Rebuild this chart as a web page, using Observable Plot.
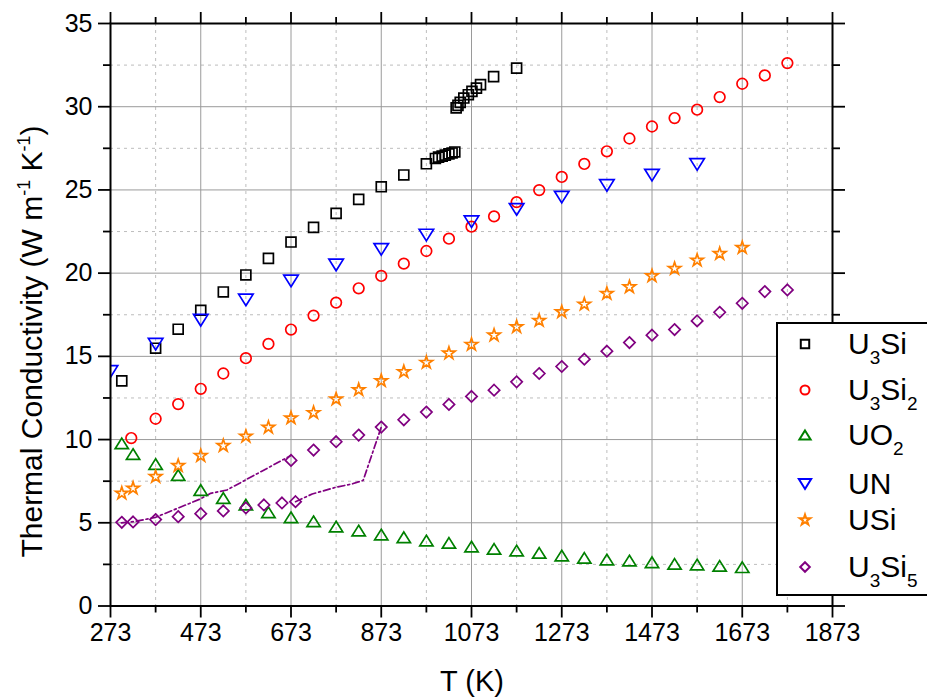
<!DOCTYPE html>
<html><head><meta charset="utf-8">
<script src="https://cdn.jsdelivr.net/npm/d3@7"></script>
<script src="https://cdn.jsdelivr.net/npm/@observablehq/plot@0.6"></script>
<style>
body{margin:0;background:#fff;}
#chart{position:relative;width:927px;height:698px;overflow:hidden;background:#fff;}
</style>
</head><body><div id="chart"></div>
<script>
// ---- tick values ----
const xMajor = [273, 473, 673, 873, 1073, 1273, 1473, 1673, 1873];
const xMinor = [373, 573, 773, 973, 1173, 1373, 1573, 1773];
const yMajor = [0, 5, 10, 15, 20, 25, 30, 35];
const yMinor = [2.5, 7.5, 12.5, 17.5, 22.5, 27.5, 32.5];

// ---- series data (T in K, k in W m-1 K-1) ----
const u3siT = [298, 373, 423, 473, 523, 573, 623, 673, 723, 773, 823, 873, 923, 973, 993, 1000, 1008, 1015, 1023, 1030, 1036, 1039, 1043, 1048, 1056, 1066, 1074, 1084, 1093, 1122, 1173];
const u3siK = [13.53, 15.49, 16.63, 17.77, 18.87, 19.89, 20.89, 21.87, 22.75, 23.59, 24.43, 25.19, 25.9, 26.57, 26.89, 26.97, 27.03, 27.09, 27.17, 27.22, 27.28, 29.93, 30.08, 30.26, 30.52, 30.72, 30.92, 31.12, 31.33, 31.81, 32.32];

const u3si2T = [319, 373, 423, 473, 523, 573, 623, 673, 723, 773, 823, 873, 923, 973, 1023, 1073, 1123, 1173, 1223, 1273, 1323, 1373, 1423, 1473, 1523, 1573, 1623, 1673, 1723, 1773];
const u3si2K = [10.09, 11.25, 12.13, 13.05, 13.97, 14.89, 15.75, 16.61, 17.45, 18.23, 19.09, 19.83, 20.57, 21.33, 22.07, 22.79, 23.41, 24.27, 24.99, 25.78, 26.56, 27.32, 28.09, 28.81, 29.32, 29.82, 30.58, 31.38, 31.88, 32.62];

const uo2T = [298, 323, 373, 423, 473, 523, 573, 623, 673, 723, 773, 823, 873, 923, 973, 1023, 1073, 1123, 1173, 1223, 1273, 1323, 1373, 1423, 1473, 1523, 1573, 1623, 1673];
const uo2K = [9.77, 9.13, 8.53, 7.87, 6.97, 6.49, 6.09, 5.63, 5.33, 5.09, 4.77, 4.53, 4.29, 4.13, 3.93, 3.79, 3.57, 3.43, 3.33, 3.19, 3.03, 2.89, 2.79, 2.73, 2.63, 2.53, 2.49, 2.41, 2.33];

const unT = [273, 373, 473, 573, 673, 773, 873, 973, 1073, 1173, 1273, 1373, 1473, 1573];
const unK = [14.09, 15.73, 17.17, 18.39, 19.53, 20.49, 21.43, 22.29, 23.09, 23.83, 24.57, 25.27, 25.89, 26.53];

const usiT = [298, 323, 373, 423, 473, 523, 573, 623, 673, 723, 773, 823, 873, 923, 973, 1023, 1073, 1123, 1173, 1223, 1273, 1323, 1373, 1423, 1473, 1523, 1573, 1623, 1673];
const usiK = [6.77, 7.07, 7.77, 8.43, 9.03, 9.63, 10.19, 10.73, 11.29, 11.61, 12.43, 12.99, 13.53, 14.07, 14.63, 15.19, 15.71, 16.27, 16.77, 17.15, 17.67, 18.13, 18.77, 19.17, 19.83, 20.27, 20.77, 21.17, 21.53];

const u3si5T = [298, 323, 373, 423, 473, 523, 573, 613, 653, 683, 673, 723, 773, 823, 873, 923, 973, 1023, 1073, 1123, 1173, 1223, 1273, 1323, 1373, 1423, 1473, 1523, 1573, 1623, 1673, 1723, 1773];
const u3si5K = [5.03, 5.05, 5.19, 5.37, 5.55, 5.71, 5.89, 6.07, 6.19, 6.27, 8.75, 9.37, 9.87, 10.27, 10.75, 11.19, 11.65, 12.11, 12.59, 12.97, 13.47, 13.97, 14.39, 14.83, 15.31, 15.83, 16.27, 16.61, 17.13, 17.65, 18.19, 18.89, 18.99];

// dash-dot guide line for U3Si5 (two pieces)
const guideAT = [297, 325, 373, 472, 495, 531, 672];
const guideAK = [5.0, 5.07, 5.33, 6.43, 6.77, 6.97, 9.03];
const guideBT = [683, 720, 772, 808, 833, 873];
const guideBK = [6.27, 6.73, 7.13, 7.33, 7.55, 10.75];

// legend labels as [text, isSubscript] parts
const seriesNames = ["U3Si", "U3Si2", "UO2", "UN", "USi", "U3Si5"];
const legendParts = [
  [["U",0],["3",1],["Si",0]],
  [["U",0],["3",1],["Si",0],["2",1]],
  [["UO",0],["2",1]],
  [["UN",0]],
  [["USi",0]],
  [["U",0],["3",1],["Si",0],["5",1]]
];
const seriesColors = ["#000000", "#ff0000", "#008000", "#0000ff", "#ff8000", "#800080"];

// ---- custom symbols ----
const triUp = {draw(ctx, size){ const r = Math.sqrt(size/Math.PI); const w = r*1.25, h = r; ctx.moveTo(0,-h); ctx.lineTo(w,h); ctx.lineTo(-w,h); ctx.closePath(); }};
const triDown = {draw(ctx, size){ const r = Math.sqrt(size/Math.PI); const w = r*1.25, h = r; ctx.moveTo(0,h); ctx.lineTo(w,-h); ctx.lineTo(-w,-h); ctx.closePath(); }};
const symbols = [d3.symbolSquare, d3.symbolCircle, triUp, triDown, d3.symbolStar, d3.symbolDiamond2];
const radii = [5.6, 5.3, 5.3, 5.8, 3.9, 5.1];

const zipT = (T, K) => T.map((t, i) => ({T: t, k: K[i]}));
const series = [zipT(u3siT,u3siK), zipT(u3si2T,u3si2K), zipT(uo2T,uo2K), zipT(unT,unK), zipT(usiT,usiK), zipT(u3si5T,u3si5K)];
const guide = [...zipT(guideAT,guideAK).map(d=>({...d,seg:"A"})), ...zipT(guideBT,guideBK).map(d=>({...d,seg:"B"}))];

const FONT = "'Liberation Sans', Arial, Helvetica, sans-serif";

const dotMarks = series.map((data, i) => Plot.dot(data, {
  x: "T", y: "k", symbol: symbols[i], r: radii[i], stroke: seriesColors[i], fill: "none", strokeWidth: 1.7, clip: true
}));

const svg = Plot.plot({
  width: 927, height: 698,
  marginLeft: 110, marginRight: 95, marginTop: 23, marginBottom: 92.5,
  x: {domain: [273, 1873]},
  y: {domain: [0, 35]},
  style: {fontFamily: FONT, fontSize: "25px", color: "black", background: "white", overflow: "visible"},
  marks: [
    Plot.gridX(xMinor, {stroke: "#bdbdbd", strokeOpacity: 1, strokeWidth: 1, strokeDasharray: "3,4"}),
    Plot.gridY(yMinor, {stroke: "#bdbdbd", strokeOpacity: 1, strokeWidth: 1, strokeDasharray: "3,4"}),
    Plot.gridX(xMajor, {stroke: "#9a9a9a", strokeOpacity: 1, strokeWidth: 1}),
    Plot.gridY(yMajor, {stroke: "#9a9a9a", strokeOpacity: 1, strokeWidth: 1}),
    Plot.axisX(xMajor, {anchor: "bottom", tickSize: 12, tickPadding: 5, strokeWidth: 1.8, tickFormat: d => String(d), fontSize: 25, label: null}),
    Plot.axisX(xMinor, {anchor: "bottom", tickSize: 7, strokeWidth: 1.8, tickFormat: () => "", label: null}),
    Plot.axisX(xMajor, {anchor: "top", tickSize: 12, strokeWidth: 1.8, tickFormat: () => "", label: null}),
    Plot.axisX(xMinor, {anchor: "top", tickSize: 7, strokeWidth: 1.8, tickFormat: () => "", label: null}),
    Plot.axisY(yMajor, {anchor: "left", tickSize: 12, tickPadding: 6, strokeWidth: 1.8, tickFormat: d => String(d), fontSize: 25, label: null}),
    Plot.axisY(yMinor, {anchor: "left", tickSize: 7, strokeWidth: 1.8, tickFormat: () => "", label: null}),
    Plot.axisY(yMajor, {anchor: "right", tickSize: 12, strokeWidth: 1.8, tickFormat: () => "", label: null}),
    Plot.axisY(yMinor, {anchor: "right", tickSize: 7, strokeWidth: 1.8, tickFormat: () => "", label: null}),
    Plot.line(guide, {x: "T", y: "k", z: "seg", stroke: "#800080", strokeWidth: 1.7, strokeDasharray: "7,3,2,3", clip: true}),
    ...dotMarks,
    Plot.frame({stroke: "black", strokeWidth: 2})
  ]
});

const root = d3.select(svg);

// axis titles
root.append("text")
  .attr("x", 472).attr("y", 691)
  .attr("text-anchor", "middle")
  .attr("font-family", FONT).attr("font-size", 29).attr("fill", "black")
  .text("T (K)");

const yt = root.append("text")
  .attr("transform", "translate(42,341.5) rotate(-90)")
  .attr("text-anchor", "middle")
  .attr("font-family", FONT).attr("font-size", 30).attr("fill", "black");
yt.append("tspan").text("Thermal Conductivity (W m");
yt.append("tspan").attr("font-size", 18).attr("dy", -12).text("-1");
yt.append("tspan").attr("dy", 12).text(" K");
yt.append("tspan").attr("font-size", 18).attr("dy", -12).text("-1");
yt.append("tspan").attr("dy", 12).text(")");

// legend
const lg = root.append("g").attr("text-anchor", "start");
lg.append("rect").attr("x", 777).attr("y", 323).attr("width", 200).attr("height", 272)
  .attr("fill", "white").attr("stroke", "black").attr("stroke-width", 2);
const rowY = [344, 390, 435, 484, 520, 567];
seriesNames.forEach((name, i) => {
  const r = radii[i] * 0.85;
  lg.append("path")
    .attr("d", d3.symbol(symbols[i], r * r * Math.PI)())
    .attr("transform", `translate(805,${rowY[i]})`)
    .attr("fill", "none").attr("stroke", seriesColors[i]).attr("stroke-width", 2);
  const t = lg.append("text").attr("x", 848).attr("y", rowY[i] + 10)
    .attr("text-anchor", "start")
    .attr("font-family", FONT).attr("font-size", 30).attr("fill", "black");
  let shifted = false;
  legendParts[i].forEach(([txt, sub]) => {
    const ts = t.append("tspan").text(txt);
    if (sub && !shifted) { ts.attr("font-size", 19).attr("dy", 10); shifted = true; }
    else if (!sub && shifted) { ts.attr("dy", -10); shifted = false; }
    else if (sub) ts.attr("font-size", 19);
  });
});

document.getElementById("chart").appendChild(svg);
</script>
</body></html>
